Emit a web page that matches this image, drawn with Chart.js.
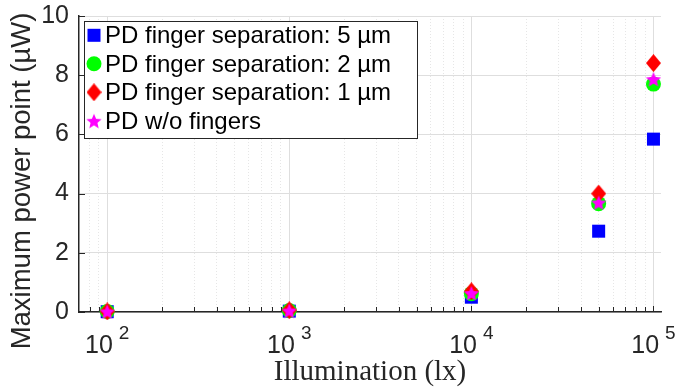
<!DOCTYPE html>
<html lang="en">
<head>
<meta charset="UTF-8">
<title>Maximum power point vs illumination</title>
<script src="https://cdn.jsdelivr.net/npm/chart.js"></script>
<style>
  html, body { margin: 0; padding: 0; background: #fff; }
</style>
</head>
<body>
<canvas id="mppChart" width="676" height="392"></canvas>
<script>
// values (µW)
const illumination = [100, 1000, 10000, 50000, 100000];
const mpp5um = [0.01, 0.03, 0.50, 2.73, 5.84];
const mpp2um = [0.02, 0.05, 0.62, 3.66, 7.70];
const mpp1um = [0.02, 0.06, 0.70, 4.00, 8.41];
const mppNoFingers = [0.02, 0.05, 0.64, 3.70, 7.87];
const seriesLabels = [
    'PD finger separation: 5 \u00b5m',
    'PD finger separation: 2 \u00b5m',
    'PD finger separation: 1 \u00b5m',
    'PD w/o fingers'
];
const xDecades = [100, 1000, 10000, 100000];
const xExponents = ['2', '3', '4', '5'];

const SANS = '"Liberation Sans", Arial, Helvetica, sans-serif';
const AXIS_COLOR = '#262626';

// grid positions for the log axis: 80, 90, 100, 200 ... 90000, 100000
const xGridValues = [];
[10, 100, 1000, 10000].forEach(d => {
    for (let k = 1; k < 10; k++) {
        if (k * d >= 80) xGridValues.push(k * d);
    }
});
xGridValues.push(100000);
const isDecade = v => xDecades.includes(v);

function makeDiamond(w, h, color) {
    const c = document.createElement('canvas');
    c.width = w; c.height = h;
    const g = c.getContext('2d');
    g.fillStyle = color;
    g.beginPath();
    g.moveTo(w / 2, 0); g.lineTo(w, h / 2); g.lineTo(w / 2, h); g.lineTo(0, h / 2);
    g.closePath();
    g.fill();
    return c;
}

function makeStar(size, color) {
    const c = document.createElement('canvas');
    c.width = size; c.height = size;
    const g = c.getContext('2d');
    const r1 = size / 2, r2 = r1 * 0.45;
    g.fillStyle = color;
    g.beginPath();
    for (let i = 0; i < 10; i++) {
        const r = i % 2 ? r2 : r1;
        const a = -Math.PI / 2 + i * Math.PI / 5;
        const px = r1 + r * Math.cos(a), py = r1 + 1 + r * Math.sin(a);
        if (i === 0) g.moveTo(px, py); else g.lineTo(px, py);
    }
    g.closePath();
    g.fill();
    return c;
}

const diamondImg = makeDiamond(15, 18, '#ff0000');
const starImg = makeStar(16, '#ff00ff');

function toPoints(ys) {
    return illumination.map((x, i) => ({ x: x, y: ys[i] }));
}

// MATLAB-like decorations: inward ticks, 10^n labels, y title, legend box
const matlabDecor = {
    id: 'matlabDecor',
    beforeDatasetsDraw(chart) {
        const { ctx, chartArea, scales } = chart;
        ctx.save();
        ctx.strokeStyle = AXIS_COLOR;
        ctx.lineWidth = 1;
        scales.x.ticks.forEach(t => {
            const px = Math.round(scales.x.getPixelForValue(t.value)) + 0.5;
            ctx.beginPath();
            ctx.moveTo(px, chartArea.bottom);
            ctx.lineTo(px, chartArea.bottom - (isDecade(t.value) ? 6 : 5));
            ctx.stroke();
        });
        scales.y.ticks.forEach(t => {
            const py = Math.round(scales.y.getPixelForValue(t.value)) + 0.5;
            ctx.beginPath();
            ctx.moveTo(chartArea.left, py);
            ctx.lineTo(chartArea.left + 6, py);
            ctx.stroke();
        });
        ctx.restore();
    },
    afterDraw(chart) {
        const { ctx, scales } = chart;
        ctx.save();
        ctx.fillStyle = AXIS_COLOR;

        // x tick labels 10^n
        xDecades.forEach((v, i) => {
            const px = scales.x.getPixelForValue(v);
            ctx.font = '25px ' + SANS;
            const wBase = ctx.measureText('10').width;
            ctx.font = '19px ' + SANS;
            const wExp = ctx.measureText(xExponents[i]).width;
            const gap = 6;
            const start = px - (wBase + gap + wExp) / 2;
            ctx.textAlign = 'left';
            ctx.textBaseline = 'alphabetic';
            ctx.font = '25px ' + SANS;
            ctx.fillText('10', start, 352.5);
            ctx.font = '19px ' + SANS;
            ctx.fillText(xExponents[i], start + wBase + gap, 339);
        });

        // y axis title
        ctx.save();
        ctx.translate(30, 181);
        ctx.rotate(-Math.PI / 2);
        ctx.font = '27.5px ' + SANS;
        ctx.textAlign = 'center';
        ctx.textBaseline = 'alphabetic';
        ctx.fillText('Maximum power point (\u00b5W)', 0, 0);
        ctx.restore();

        // legend
        const box = { left: 84, top: 21, right: 417, bottom: 138 };
        ctx.fillStyle = '#ffffff';
        ctx.fillRect(box.left, box.top, box.right - box.left, box.bottom - box.top);
        ctx.strokeStyle = AXIS_COLOR;
        ctx.lineWidth = 1;
        ctx.strokeRect(box.left + 0.5, box.top + 0.5, box.right - box.left, box.bottom - box.top);

        ctx.font = '24px ' + SANS;
        ctx.textAlign = 'left';
        ctx.textBaseline = 'alphabetic';
        const mx = 94;
        chart.data.datasets.forEach((ds, i) => {
            const base = 43.3 + i * 28.5;
            const my = base - 8;
            const style = ds.pointStyle;
            if (style === 'rect') {
                ctx.fillStyle = ds.pointBackgroundColor;
                ctx.fillRect(mx - 6.5, my - 6.5, 13, 13);
            } else if (style === 'circle') {
                ctx.fillStyle = ds.pointBackgroundColor;
                ctx.beginPath();
                ctx.arc(mx, my, 7.5, 0, Math.PI * 2);
                ctx.fill();
            } else {
                ctx.drawImage(style, mx - style.width / 2, my - style.height / 2);
            }
            ctx.fillStyle = '#000000';
            ctx.fillText(ds.label, 105, base);
        });
        ctx.restore();
    }
};

const datasets = [
    { label: seriesLabels[0], data: toPoints(mpp5um), pointStyle: 'rect', pointRadius: 9.2,
      pointBackgroundColor: '#0000ff', order: 4 },
    { label: seriesLabels[1], data: toPoints(mpp2um), pointStyle: 'circle', pointRadius: 7.5,
      pointBackgroundColor: '#00ff00', order: 3 },
    { label: seriesLabels[2], data: toPoints(mpp1um), pointStyle: diamondImg, pointRadius: 9,
      pointBackgroundColor: '#ff0000', order: 2 },
    { label: seriesLabels[3], data: toPoints(mppNoFingers), pointStyle: starImg, pointRadius: 8,
      pointBackgroundColor: '#ff00ff', order: 1 }
];
datasets.forEach(ds => {
    ds.pointBorderWidth = 0;
    ds.pointBorderColor = 'rgba(0,0,0,0)';
    ds.pointHoverRadius = ds.pointRadius;
    ds.clip = false;
});

const ctx = document.getElementById('mppChart').getContext('2d');
new Chart(ctx, {
    type: 'scatter',
    data: { datasets },
    options: {
        responsive: false,
        animation: false,
        devicePixelRatio: 1,
        layout: { padding: { left: 41, right: 15, top: 16, bottom: 0 } },
        plugins: {
            legend: { display: false },
            tooltip: { enabled: false }
        },
        scales: {
            x: {
                type: 'logarithmic',
                min: 70,
                max: 110000,
                afterBuildTicks: scale => {
                    scale.ticks = xGridValues.map(v => ({ value: v }));
                },
                afterFit: scale => { scale.height = 80; },
                ticks: { display: false },
                grid: {
                    drawTicks: false,
                    lineWidth: 1,
                    color: c => (c.tick && !isDecade(c.tick.value)) ? '#e6e6e6' : '#dedede'
                },
                border: {
                    display: true,
                    color: AXIS_COLOR,
                    width: 1.5,
                    dash: c => (c.tick && !isDecade(c.tick.value)) ? [1, 2] : []
                },
                title: {
                    display: true,
                    text: 'Illumination (lx)',
                    color: AXIS_COLOR,
                    font: { family: '"Liberation Serif", "Times New Roman", serif', size: 29 },
                    padding: { top: 43, bottom: 2 }
                }
            },
            y: {
                min: 0,
                max: 10,
                afterFit: scale => {
                    scale.width = 38;
                    scale.paddingTop = 0;
                    scale.paddingBottom = 0;
                },
                ticks: {
                    stepSize: 2,
                    color: AXIS_COLOR,
                    padding: 10,
                    font: { family: SANS, size: 25 }
                },
                grid: { drawTicks: false, color: '#dedede', lineWidth: 1 },
                border: { display: true, color: AXIS_COLOR, width: 1.5 }
            }
        }
    },
    plugins: [matlabDecor]
});
</script>
</body>
</html>
